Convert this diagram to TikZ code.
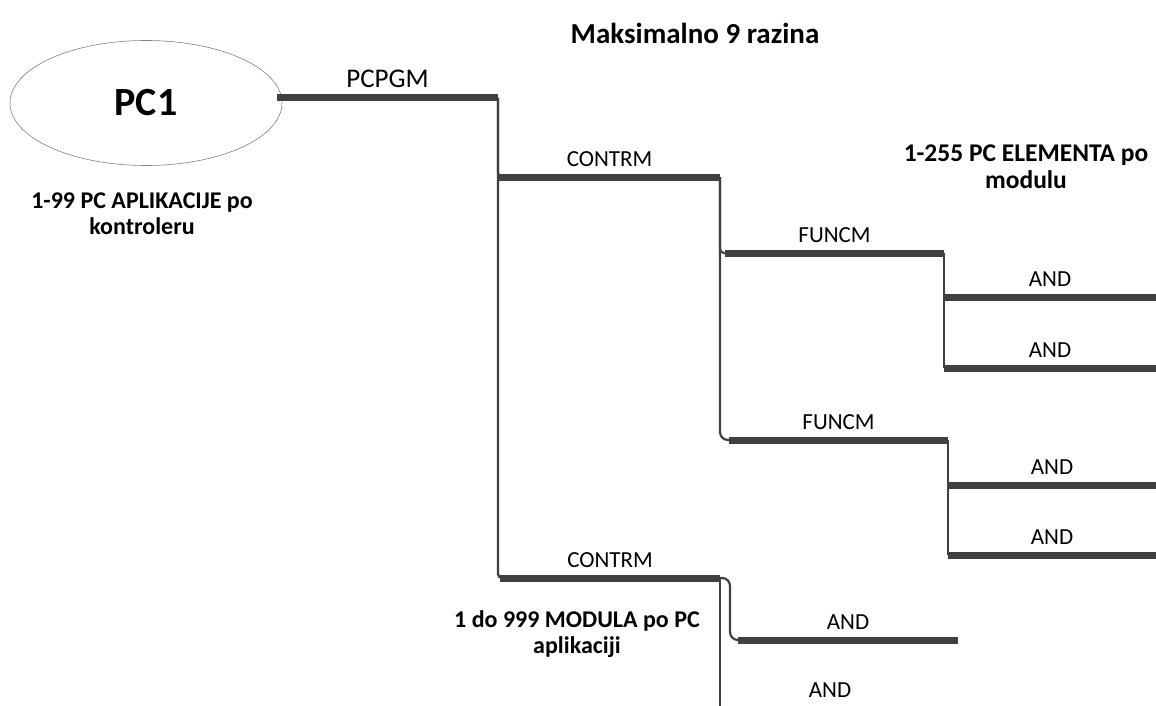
\documentclass[tikz,border=0pt]{standalone}
\usepackage{fontspec}
\setmainfont{Carlito}
\usetikzlibrary{positioning, shapes.geometric}
\definecolor{bargray}{HTML}{404040}
\tikzset{
	every text node part/.style= {
		align=center
	},
	bar/.style= {
		rectangle,
		fill=bargray,
		inner sep=0,
		outer sep=0,
		minimum height=7
	},
	lbl/.style= {
		font=\fontsize{23}{26}\selectfont,
		inner sep=2
	},
	note/.style= {
		font=\bfseries\fontsize{24}{26}\selectfont,
		inner sep=0
	},
	link/.style= {
		draw=bargray,
		line width=2.2,
		rounded corners=4
	},
	every label/.style={lbl},
	label distance=5,
}
\begin{document}
\begin{tikzpicture}[x=1pt, y=-1pt]
		\useasboundingbox (0,0) rectangle (1156,706);
		
		\node (pc1) [ellipse, draw=gray, line width=0.6, minimum width=272, minimum height=125, font=\bfseries\fontsize{40}{40}\selectfont] at (146,103) {PC1};
		
		% bars with their labels
		\node (pcpgm) [bar, minimum width=221, label=above:{\fontsize{27}{30}\selectfont PCPGM}] at (387.5,98) {};
		\node (contrm1) [bar, minimum width=221, label=above:CONTRM] at (609.5,177) {};
		\node (contrm2) [bar, minimum width=220, label=above:CONTRM] at (610,578) {};
		\node (funcm1) [bar, minimum width=219, label=above:FUNCM] at (834.5,253) {};
		\node (funcm2) [bar, minimum width=219, label=above:FUNCM] at (838.5,440) {};
		\node (and1) [bar, minimum width=212, label=above:AND] at (1050,297) {};
		\node (and2) [bar, minimum width=212, label=above:AND] at (1050,368) {};
		\node (and3) [bar, minimum width=208, label=above:AND] at (1052,485) {};
		\node (and4) [bar, minimum width=208, label=above:AND] at (1052,555) {};
		\node (and5) [bar, minimum width=220, label=above:AND] at (848,640) {};
		\node (and6) [lbl] at (830,690) {AND};
		\coordinate (bottomend) at (720,706);
		
		% notes
		\node (maxlvl) [note, font=\bfseries\fontsize{29}{30}\selectfont] at (695,33) {Maksimalno 9 razina};
		\node (apps) [note] at (142,214) {1-99 PC APLIKACIJE po\\kontroleru};
		\node (elems) [note, font=\bfseries\fontsize{25.5}{27}\selectfont] at (1026,167) {1-255 PC ELEMENTA po\\modulu};
		\node (mods) [note] at (577,634) {1 do 999 MODULA po PC\\aplikaciji};
		
		% connectors
		\draw[link] (pcpgm.east) |- (contrm1.west);
		\draw[link] (pcpgm.east) |- (contrm2.west);
		\draw[link] (contrm1.east) |- (funcm1.west);
		\draw[link, rounded corners=8] (contrm1.east) |- (funcm2.west);
		\draw[link] (funcm1.east) |- (and1.west);
		\draw[link] (funcm1.east) |- (and2.west);
		\draw[link] (funcm2.east) |- (and3.west);
		\draw[link] (funcm2.east) |- (and4.west);
		\draw[link, rounded corners=8] (contrm2.east) -| ++(10,31) |- (and5.west);
		\draw[link] (contrm2.east) -- (bottomend);
\end{tikzpicture}
\end{document}
